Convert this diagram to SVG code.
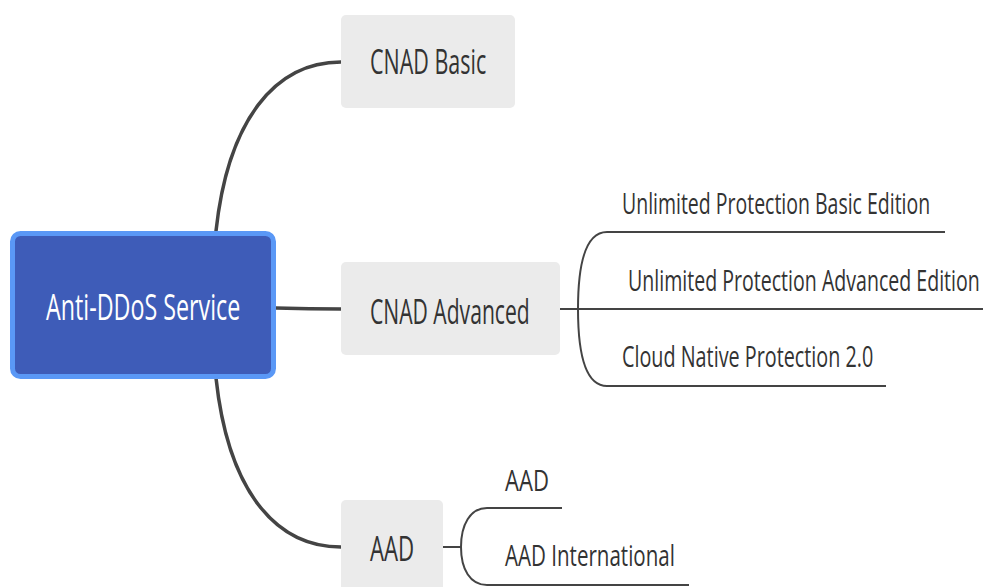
<svg xmlns="http://www.w3.org/2000/svg" width="983" height="587" viewBox="0 0 983 587">
<style>
.box{fill:#ebebeb}
.t{font-family:"Open Sans","Liberation Sans",sans-serif;fill:#333;font-size:34px}
.c{font-size:29px}
.edge{fill:none;stroke:#444;stroke-width:3.5;stroke-linecap:round}
.sub{fill:none;stroke:#444;stroke-width:2}
</style>
<g id="connectors">
<path class="edge" d="M216,231 C228,120 275,62 341,62"/>
<path class="edge" d="M276,308 Q310,309 341,309"/>
<path class="edge" d="M216,378 C228,490 275,547 341,547"/>
<path class="sub" d="M560,309 L983,309"/>
<path class="sub" d="M578,309 C578,258 588,232 607,232 L945,232"/>
<path class="sub" d="M578,309 C578,360 588,386 607,386 L886,386"/>
<path class="sub" d="M443,547 L461,547"/>
<path class="sub" d="M461,547 C461,525 470,508 487,508 L562,508"/>
<path class="sub" d="M461,547 C461,569 470,585 487,585 L689,585"/>
</g>
<g id="root">
<rect x="12.5" y="233.5" width="261" height="143" rx="8" fill="#3e5cb8" stroke="#5a98f6" stroke-width="5"/>
<text class="t" transform="translate(46,320) scale(0.75,1)" textLength="259" lengthAdjust="spacingAndGlyphs" style="fill:#fff;font-size:37px">Anti-DDoS Service</text>
</g>
<g id="cnad-basic">
<rect class="box" x="341" y="15" width="174" height="93" rx="5"/>
<text class="t" transform="translate(370,74) scale(0.75,1)" textLength="155" lengthAdjust="spacingAndGlyphs">CNAD Basic</text>
</g>
<g id="cnad-advanced">
<rect class="box" x="341" y="262" width="219" height="93" rx="5"/>
<text class="t" transform="translate(370,324) scale(0.75,1)" textLength="213" lengthAdjust="spacingAndGlyphs">CNAD Advanced</text>
</g>
<g id="aad">
<rect class="box" x="341" y="500" width="102" height="100" rx="5"/>
<text class="t" transform="translate(370,561) scale(0.75,1)" textLength="59" lengthAdjust="spacingAndGlyphs">AAD</text>
</g>
<g id="upbe">
<text class="t c" transform="translate(622,214) scale(0.72,1)" textLength="428" lengthAdjust="spacingAndGlyphs">Unlimited Protection Basic Edition</text>
</g>
<g id="upae">
<text class="t c" transform="translate(628,291) scale(0.66,1)" textLength="533" lengthAdjust="spacingAndGlyphs">Unlimited Protection Advanced Edition</text>
</g>
<g id="cnp">
<text class="t c" transform="translate(622,367) scale(0.72,1)" textLength="349" lengthAdjust="spacingAndGlyphs">Cloud Native Protection 2.0</text>
</g>
<g id="aad-cn">
<text class="t c" transform="translate(505,491) scale(0.72,1)" textLength="61" lengthAdjust="spacingAndGlyphs">AAD</text>
</g>
<g id="aad-intl">
<text class="t c" transform="translate(505,566) scale(0.72,1)" textLength="236" lengthAdjust="spacingAndGlyphs">AAD International</text>
</g>
</svg>
